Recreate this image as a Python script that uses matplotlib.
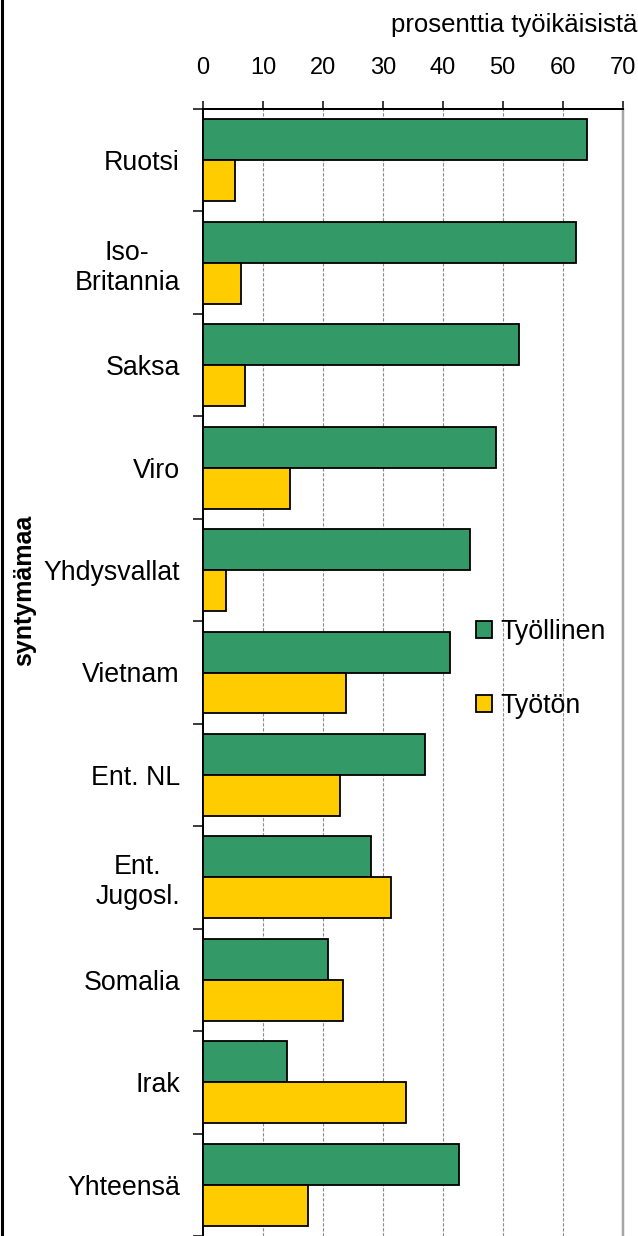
import matplotlib
matplotlib.use("Agg")
import matplotlib.pyplot as plt
import numpy as np
from matplotlib.lines import Line2D
from matplotlib.ticker import FixedLocator

plt.rcParams['font.family'] = ['Liberation Sans', 'DejaVu Sans']

categories = ["Ruotsi", "Iso-\nBritannia", "Saksa", "Viro", "Yhdysvallat", "Vietnam",
              "Ent. NL", "Ent.\nJugosl.", "Somalia", "Irak", "Yhteensä"]
employed = [64.1, 62.3, 52.8, 48.9, 44.6, 41.2, 37.1, 28.1, 20.8, 14.1, 42.7]
unemployed = [5.3, 6.4, 7.0, 14.5, 3.9, 23.9, 22.9, 31.4, 23.3, 33.8, 17.6]
series_names = ["Työllinen", "Työtön"]
xticks = [0, 10, 20, 30, 40, 50, 60, 70]

W, H = 638, 1236
PT = 0.72  # points per pixel at 100 dpi
fig = plt.figure(figsize=(W / 100, H / 100), dpi=100)
ax = fig.add_axes([203 / W, 0, (622.5 - 203) / W, 1 - 109 / H])

y = np.arange(len(categories))
h = 0.4
ax.barh(y - h / 2, employed, height=h, color="#339966", edgecolor="black", linewidth=1.3,
        label=series_names[0], zorder=3)
ax.barh(y + h / 2, unemployed, height=h, color="#FFCC00", edgecolor="black", linewidth=1.3,
        label=series_names[1], zorder=3)

ax.set_xlim(0, 70)
ax.set_ylim(len(categories) - 0.5, -0.5)

ax.xaxis.tick_top()
ax.set_xticks(xticks)
ax.set_xticklabels([str(t) for t in xticks], fontsize=17)
ax.tick_params(axis='x', direction='out', length=8 * PT, width=1.5 * PT, pad=16, colors='black')

ax.set_yticks(y)
ax.set_yticklabels(categories, fontsize=19.3, multialignment='center')
ax.tick_params(axis='y', which='major', length=0, pad=23 * PT)
ax.yaxis.set_minor_locator(FixedLocator(np.arange(-0.5, len(categories), 1.0)))
ax.tick_params(axis='y', which='minor', direction='out', length=10 * PT, width=1.5 * PT)

for xv in xticks[1:-1]:
    ax.axvline(xv, color="#8c8c8c", linewidth=0.8, linestyle=(0, (3, 1.5)), zorder=1)

ax.spines['top'].set_linewidth(2 * PT)
ax.spines['left'].set_linewidth(2 * PT)
ax.spines['right'].set_color('#a6a6a6')
ax.spines['right'].set_linewidth(2.5 * PT)
ax.spines['bottom'].set_visible(False)

fig.text(24 / W, 1 - 590 / H, "syntymämaa", rotation=90, ha='center', va='center',
         fontsize=18, fontweight='bold')

fig.text(637 / W, 1 - 25 / H, "prosenttia työikäisistä", ha='right', va='center', fontsize=18.5)

leg = ax.legend(loc='center left', bbox_to_anchor=(476 / W, 1 - 669 / H), bbox_transform=fig.transFigure,
                frameon=False, fontsize=19.3, handlelength=0.6, handleheight=0.6,
                handletextpad=0.3, labelspacing=1.78, borderpad=0, borderaxespad=0)
for p in leg.get_patches():
    p.set_linewidth(1.3)

fig.add_artist(Line2D([1.5 / W, 1.5 / W], [0, 1], transform=fig.transFigure, color='black', linewidth=2.2))

fig.savefig("out.png", dpi=100)
